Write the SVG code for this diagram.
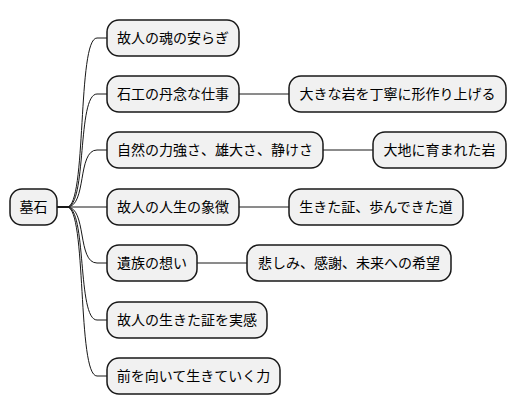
<svg xmlns="http://www.w3.org/2000/svg" width="516" height="415" viewBox="0 0 516 415">
<style>
.n rect{fill:#F1F1F1;stroke:#181818;stroke-width:1.5}
.n text{font-family:"Noto Sans CJK JP","Noto Sans CJK SC",sans-serif;font-size:14px;fill:#000;text-anchor:middle}
#edges path{fill:none;stroke:#181818;stroke-width:1}
</style>
<rect width="516" height="415" fill="#fff"/>
<g id="edges">
<path d="M57,207 H67 C87,207 77,38 97,38 H107"/>
<path d="M57,207 H67 C87,207 77,94 97,94 H107"/>
<path d="M57,207 H67 C87,207 77,150 97,150 H107"/>
<path d="M57,207 H107"/>
<path d="M57,207 H67 C87,207 77,263 97,263 H107"/>
<path d="M57,207 H67 C87,207 77,320 97,320 H107"/>
<path d="M57,207 H67 C87,207 77,376 97,376 H107"/>
<path d="M239,94 H289"/>
<path d="M323,150 H373"/>
<path d="M239,207 H289"/>
<path d="M197,263 H247"/>
</g>
<g id="root" class="n"><rect x="10" y="189" width="47" height="36" rx="12"/><text x="33.5" y="212">墓石</text></g>
<g id="n1" class="n"><rect x="107" y="20" width="132" height="36" rx="12"/><text x="173" y="43">故人の魂の安らぎ</text></g>
<g id="n2" class="n"><rect x="107" y="76" width="132" height="36" rx="12"/><text x="173" y="99">石工の丹念な仕事</text></g>
<g id="n2a" class="n"><rect x="289" y="76" width="217" height="36" rx="12"/><text x="397.5" y="99">大きな岩を丁寧に形作り上げる</text></g>
<g id="n3" class="n"><rect x="107" y="132" width="216" height="36" rx="12"/><text x="215" y="155">自然の力強さ、雄大さ、静けさ</text></g>
<g id="n3a" class="n"><rect x="373" y="132" width="133" height="36" rx="12"/><text x="439.5" y="155">大地に育まれた岩</text></g>
<g id="n4" class="n"><rect x="107" y="189" width="132" height="36" rx="12"/><text x="173" y="212">故人の人生の象徴</text></g>
<g id="n4a" class="n"><rect x="289" y="189" width="174" height="36" rx="12"/><text x="376" y="212">生きた証、歩んできた道</text></g>
<g id="n5" class="n"><rect x="107" y="245" width="90" height="36" rx="12"/><text x="152" y="268">遺族の想い</text></g>
<g id="n5a" class="n"><rect x="247" y="245" width="204" height="36" rx="12"/><text x="349" y="268">悲しみ、感謝、未来への希望</text></g>
<g id="n6" class="n"><rect x="107" y="302" width="160" height="36" rx="12"/><text x="187" y="325">故人の生きた証を実感</text></g>
<g id="n7" class="n"><rect x="107" y="358" width="173" height="36" rx="12"/><text x="193.5" y="381">前を向いて生きていく力</text></g>
</svg>
